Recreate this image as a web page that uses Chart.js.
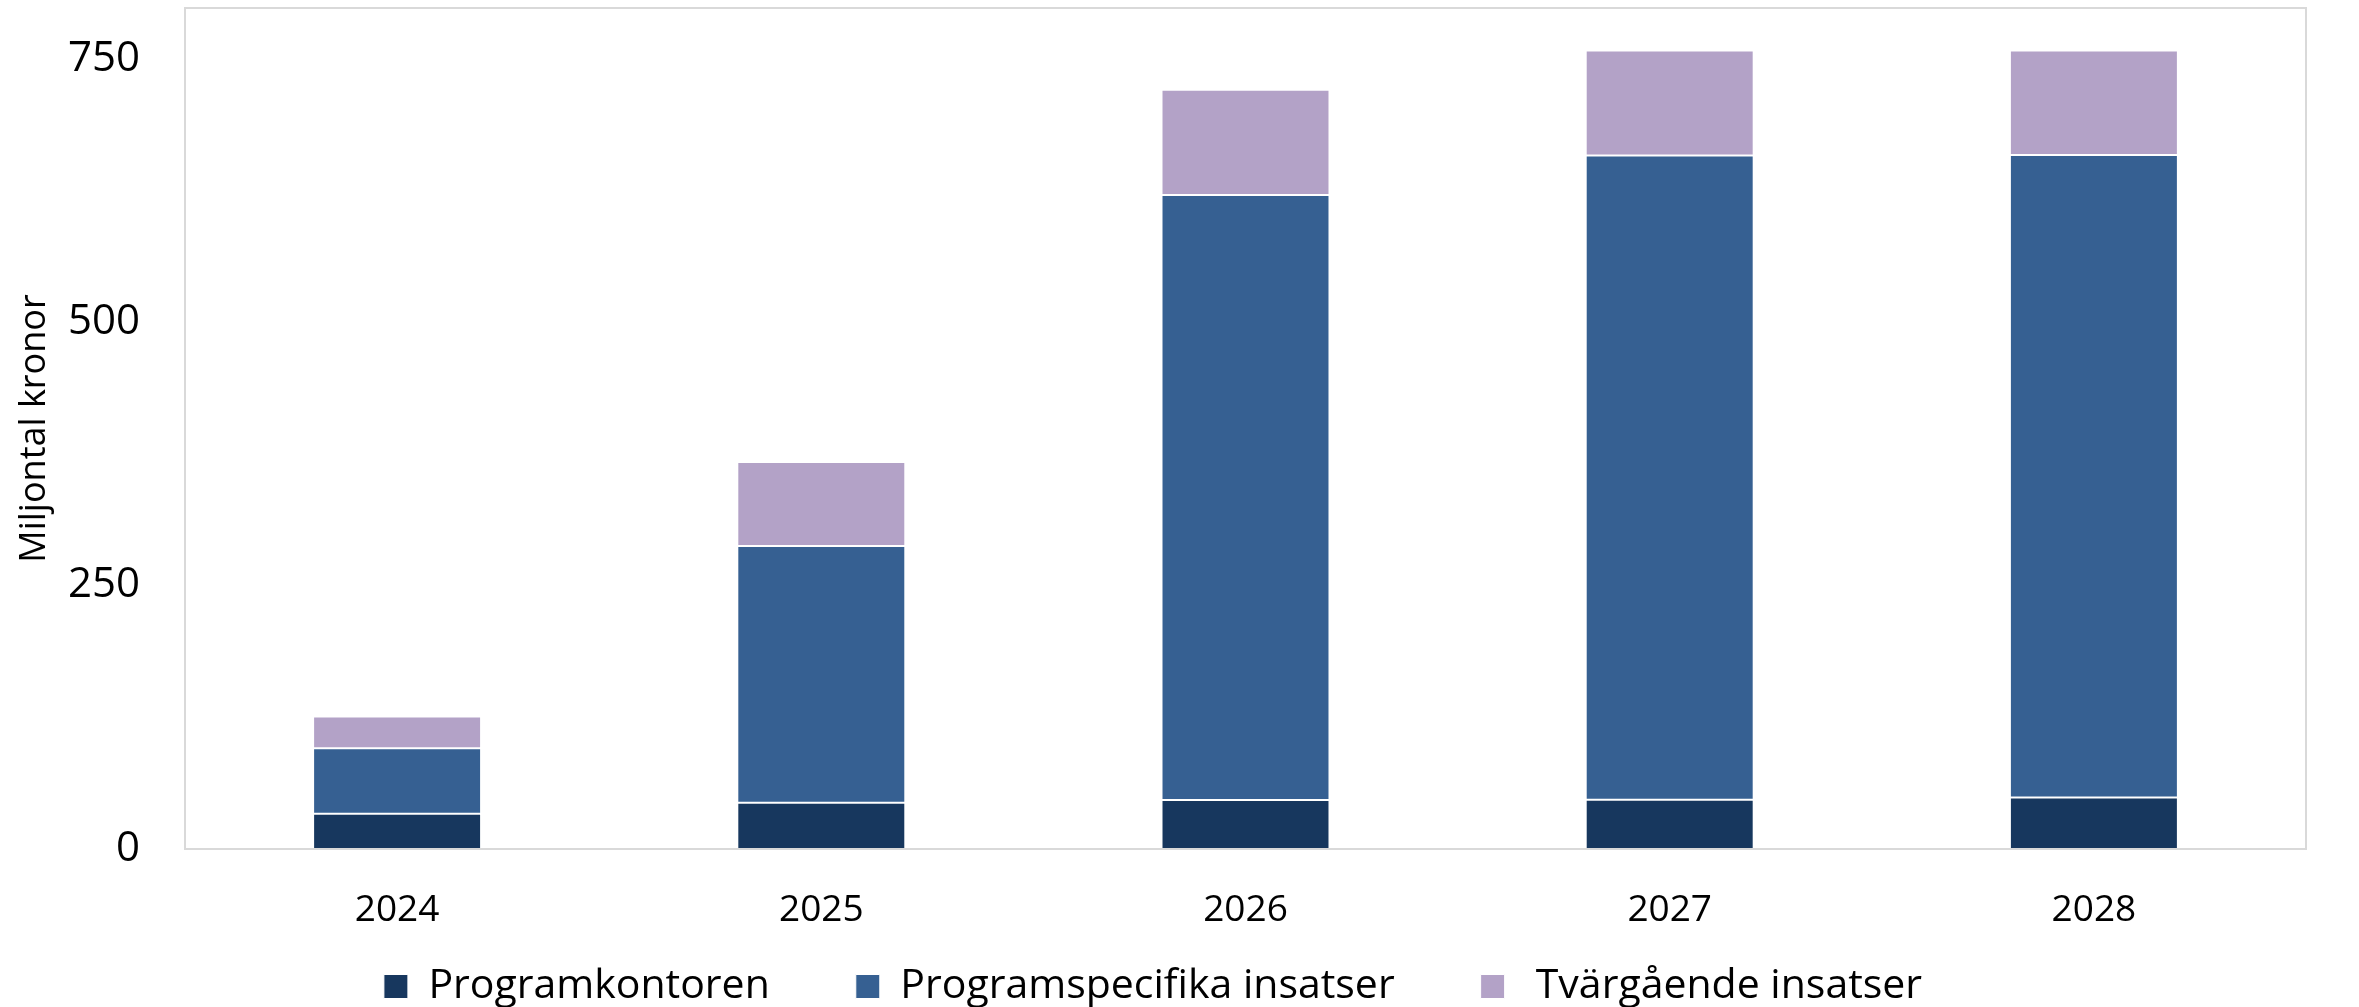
<!DOCTYPE html>
<html lang="sv">
<head>
<meta charset="utf-8">
<title>Miljontal kronor</title>
<script src="https://cdn.jsdelivr.net/npm/chart.js@4"></script>
<style>
    body { margin: 0; background: #ffffff; }
    #wrap { width: 2359px; height: 1007px; }
</style>
</head>
<body>
<div id="wrap"><canvas id="chart" width="2359" height="1007"></canvas></div>
<script>
// data (miljontal kronor)
const years = ['2024', '2025', '2026', '2027', '2028'];
const programkontoren = [33.5, 44, 46.5, 46.7, 48.8];
const programspecifika = [62, 243.4, 574, 611.3, 609.8];
const tvargaende = [30.3, 79.7, 99.9, 99.6, 99];
const yTicks = [0, 250, 500, 750];

const seriesNames = ['Programkontoren', 'Programspecifika insatser', ' Tvärgående insatser'];
const seriesColors = ['#17375E', '#366092', '#B3A2C7'];

const fontFamily = '"Open Sans", "Noto Sans", sans-serif';

// ram runt ritytan
const plotBorder = {
    id: 'plotBorder',
    afterDatasetsDraw(chart) {
        const a = chart.chartArea;
        const ctx = chart.ctx;
        ctx.save();
        ctx.strokeStyle = '#D9D9D9';
        ctx.lineWidth = 2;
        ctx.strokeRect(a.left, a.top, a.right - a.left, a.bottom - a.top);
        ctx.restore();
    }
};

// legendens padding styr avståndet mellan posterna, flytta upp rutans topp igen
const legendShift = {
    id: 'legendShift',
    afterLayout(chart) {
        const lg = chart.legend;
        lg.top -= lg.options.labels.padding - 19;
    }
};

function makeSet(i, values) {
    return {
        label: seriesNames[i],
        data: values,
        backgroundColor: seriesColors[i],
        borderColor: '#ffffff',
        borderWidth: 1,
        borderSkipped: false,
        categoryPercentage: 1,
        barPercentage: 0.396
    };
}

const ctx = document.getElementById('chart').getContext('2d');
const chart = new Chart(ctx, {
    type: 'bar',
    data: {
        labels: years,
        datasets: [
            makeSet(0, programkontoren),
            makeSet(1, programspecifika),
            makeSet(2, tvargaende)
        ]
    },
    plugins: [plotBorder, legendShift],
    options: {
        responsive: false,
        animation: false,
        devicePixelRatio: 1,
        layout: {
            padding: { left: 0, right: 53, top: 8, bottom: 0 }
        },
        plugins: {
            tooltip: { enabled: false },
            legend: {
                position: 'bottom',
                maxHeight: 60,
                labels: {
                    color: '#000000',
                    font: { family: fontFamily, size: 41 },
                    boxWidth: 24,
                    boxHeight: 24,
                    padding: 86
                }
            }
        },
        scales: {
            x: {
                stacked: true,
                grid: { display: false, drawTicks: false },
                border: { display: false },
                ticks: {
                    color: '#000000',
                    font: { family: fontFamily, size: 37 },
                    padding: 39
                },
                afterFit(scale) {
                    scale.height = 98;
                    scale.paddingLeft = 0;
                    scale.paddingRight = 0;
                }
            },
            y: {
                stacked: true,
                min: 0,
                max: 798,
                grid: { display: false, drawTicks: false },
                border: { display: false },
                afterBuildTicks(scale) {
                    scale.ticks = yTicks.map(v => ({ value: v }));
                },
                ticks: {
                    color: '#000000',
                    font: { family: fontFamily, size: 42 },
                    padding: 45
                },
                title: {
                    display: true,
                    text: 'Miljontal kronor',
                    color: '#000000',
                    font: { family: fontFamily, size: 36 },
                    padding: { top: 13, bottom: 0 }
                },
                afterFit(scale) {
                    scale.width = 185;
                    scale.paddingTop = 0;
                    scale.paddingBottom = 0;
                }
            }
        }
    }
});
</script>
</body>
</html>
